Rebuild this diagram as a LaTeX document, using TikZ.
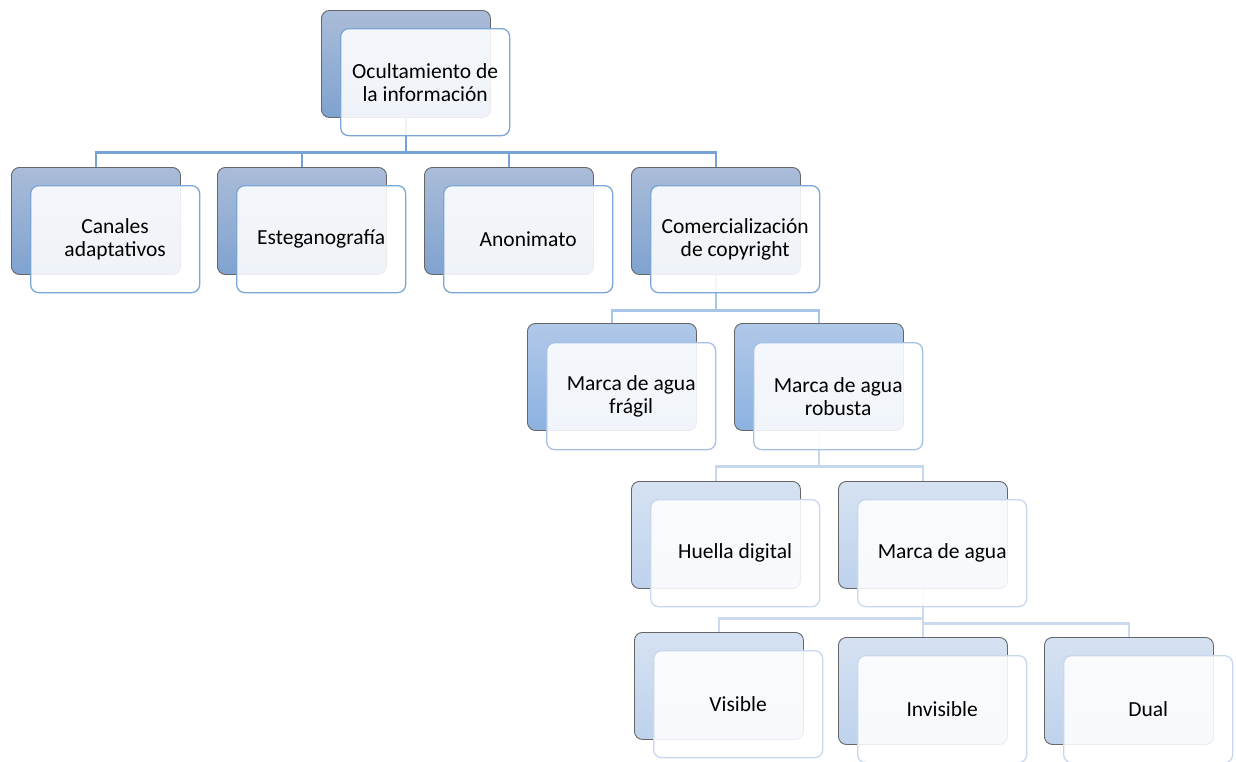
\documentclass[tikz,border=0pt]{standalone}
\usepackage{fontspec}
\setmainfont{Carlito}
\usetikzlibrary{calc}
\pgfdeclarelayer{back}
\pgfdeclarelayer{mid}
\pgfsetlayers{back,mid,main}

% palette per depth
\definecolor{bkTopA}{HTML}{AABCD8}\definecolor{bkBotA}{HTML}{7FA2CF}
\definecolor{bkTopB}{HTML}{B0C8E8}\definecolor{bkBotB}{HTML}{8DB2E0}
\definecolor{bkTopC}{HTML}{D6E2F2}\definecolor{bkBotC}{HTML}{BED2EC}
\definecolor{frA}{HTML}{7BA6D8}
\definecolor{frB}{HTML}{A5C2E6}
\definecolor{frC}{HTML}{C6D7EE}
\definecolor{lnA}{HTML}{76A2D6}
\definecolor{lnB}{HTML}{A8C4E6}
\definecolor{lnC}{HTML}{C6D7EE}
\definecolor{lnD}{HTML}{CCDAEF}
\definecolor{edge}{HTML}{666666}

\tikzset{
  backbox/.style={rectangle, rounded corners=8pt, anchor=north west,
    minimum width=169pt, minimum height=107pt, inner sep=0pt,
    draw=edge, line width=0.9pt},
  depthA/.style={top color=bkTopA, bottom color=bkBotA},
  depthB/.style={top color=bkTopB, bottom color=bkBotB},
  depthC/.style={top color=bkTopC, bottom color=bkBotC},
  frontbox/.style={rectangle, rounded corners=8pt, anchor=north west,
    minimum width=169pt, minimum height=107pt, inner sep=0pt,
    fill=white, fill opacity=0.88, text opacity=1, line width=1.3pt,
    align=center, font=\fontsize{21.5}{23}\selectfont, text=black},
  conn/.style={line width=2.6pt}
}

\begin{document}
\begin{tikzpicture}[x=1pt,y=-1pt]
\useasboundingbox (0,0) rectangle (1236,761);

% shaded back cards
\begin{pgfonlayer}{back}
\node[backbox,depthA] (rootb) at (321,10) {};
\node[backbox,depthA] (canb) at (11,167) {};
\node[backbox,depthA] (estb) at (217,167) {};
\node[backbox,depthA] (anob) at (424,167) {};
\node[backbox,depthA] (comb) at (631,167) {};
\node[backbox,depthB] (fragb) at (527,323) {};
\node[backbox,depthB] (robb) at (734,323) {};
\node[backbox,depthC] (huelb) at (631,481) {};
\node[backbox,depthC] (marcb) at (838,481) {};
\node[backbox,depthC] (visb) at (634,632) {};
\node[backbox,depthC] (invb) at (838,637) {};
\node[backbox,depthC] (dualb) at (1044,637) {};
\end{pgfonlayer}

% translucent front cards carrying the labels
\node[frontbox,draw=frA] (root) at (340,28) {Ocultamiento de\\la información};
\node[frontbox,draw=frA] (can) at (30,185) {Canales\\adaptativos};
\node[frontbox,draw=frA] (est) at (236,185) {Esteganografía};
\node[frontbox,draw=frA] (ano) at (443,185) {Anonimato};
\node[frontbox,draw=frA] (com) at (650,185) {Comercialización\\de copyright};
\node[frontbox,draw=frB] (frag) at (546,342) {Marca de agua\\frágil};
\node[frontbox,draw=frB] (rob) at (753,342) {Marca de agua\\robusta};
\node[frontbox,draw=frC] (huel) at (650,499) {Huella digital};
\node[frontbox,draw=frC] (marc) at (857,499) {Marca de agua};
\node[frontbox,draw=frC] (vis) at (653,650) {Visible};
\node[frontbox,draw=frC] (inv) at (857,655) {Invisible};
\node[frontbox,draw=frC] (dual) at (1063,655) {Dual};

% connectors, behind the front cards
\begin{pgfonlayer}{mid}
\foreach \c in {canb,estb,anob,comb}
  \draw[conn,lnA] (rootb.south) -- ($(rootb |- root.south)+(0,16)$) -| (\c.north);
\foreach \c in {fragb,robb}
  \draw[conn,lnB] (comb.south) -- ($(comb |- com.south)+(0,17)$) -| (\c.north);
\foreach \c in {huelb,marcb}
  \draw[conn,lnC] (robb.south) -- ($(robb |- rob.south)+(0,16)$) -| (\c.north);
\draw[conn,lnD] (marcb.south) -- ($(marcb |- marc.south)+(0,11)$) -| (visb.north);
\draw[conn,lnD] (marcb.south) -- (invb.north);
\draw[conn,lnD] (marcb.south) -- ($(marcb |- marc.south)+(0,16)$) -| (dualb.north);
\end{pgfonlayer}
\end{tikzpicture}
\end{document}
